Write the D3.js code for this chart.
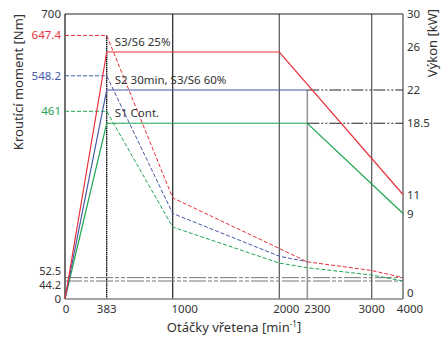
<!DOCTYPE html>
<html><head><meta charset="utf-8">
<script src="https://cdn.jsdelivr.net/npm/d3@7"></script>
<style>html,body{margin:0;padding:0;background:#fff;} svg{display:block;font-family:"Noto Sans",sans-serif;}</style>
</head><body>
<svg id="c" width="444" height="338"></svg>
<script>
// ---- data ----
const speedTicks = [0, 383, 1000, 2000, 2300, 3000, 4000];
const torqueTicks = [700, 647.4, 548.2, 461, 52.5, 44.2, 0];
const powerTicks = [30, 26, 22, 18.5, 11, 9, 0];

const torqueSpeeds = [0, 383, 1000, 2000, 2300, 3000, 4000];
const torqueS3_25 = [647.4, 647.4, 248.3, 124.2, 91.3, 70.0, 52.5];
const torqueS2_60 = [548.2, 548.2, 210.1, 105.1, 91.3];
const torqueS1 = [461, 461, 176.7, 88.3, 76.8, 58.9, 44.2];

const powerS3_25_speeds = [0, 383, 2000, 4000];
const powerS3_25 = [0, 26, 26, 11];
const powerS2_60_speeds = [0, 383, 2300];
const powerS2_60 = [0, 22, 22];
const powerS1_speeds = [0, 383, 2300, 4000];
const powerS1 = [0, 18.5, 18.5, 9];

const refTorque = [52.5, 44.2];
const refPower = [22, 18.5];
const seriesLabels = ["S3/S6 25%", "S2 30min, S3/S6 60%", "S1 Cont."];

// ---- layout ----
const svg = d3.select("#c");
const L = 65, R = 403, T = 14, B = 299;
const x = d3.scaleLinear().domain(speedTicks).range([65, 106.7, 172.7, 279.3, 307.3, 371.7, 403]);
const yT = d3.scaleLinear().domain([0, 700]).range([B, T]);
const yP = d3.scaleLinear().domain([0, 30]).range([B, T]);

const RED = "#e8303a", BLUE = "#4657a8", GREEN = "#1ea552";
const TXT = "#333";

// vertical grid lines
const g = svg.append("g");
g.append("line").attr("x1", x(383)).attr("x2", x(383)).attr("y1", yT(647.4)).attr("y2", B)
  .attr("stroke", "#000").attr("stroke-width", 1.3).attr("stroke-dasharray", "1.5,0.6");
g.append("line").attr("x1", x(1000)).attr("x2", x(1000)).attr("y1", T).attr("y2", B).attr("stroke", "#222").attr("stroke-width", 1.2);
g.append("line").attr("x1", x(2000)).attr("x2", x(2000)).attr("y1", T).attr("y2", B).attr("stroke", "#555").attr("stroke-width", 1.2);
g.append("line").attr("x1", x(2300)).attr("x2", x(2300)).attr("y1", yP(22)).attr("y2", B).attr("stroke", "#999").attr("stroke-width", 1.6);
g.append("line").attr("x1", x(3000)).attr("x2", x(3000)).attr("y1", T).attr("y2", B).attr("stroke", "#555").attr("stroke-width", 1.2);

// frame
g.append("line").attr("x1", L).attr("x2", R).attr("y1", T).attr("y2", T).attr("stroke", "#222").attr("stroke-width", 1.2);
g.append("line").attr("x1", L).attr("x2", L).attr("y1", T).attr("y2", B).attr("stroke", "#111").attr("stroke-width", 1.2);
g.append("line").attr("x1", R).attr("x2", R).attr("y1", T).attr("y2", B).attr("stroke", "#666").attr("stroke-width", 1.4);
g.append("line").attr("x1", L).attr("x2", R).attr("y1", B).attr("y2", B).attr("stroke", "#888").attr("stroke-width", 1.6);

// reference torque lines (double dash-dot-dot)
refTorque.forEach(v => {
  g.append("line").attr("x1", L).attr("x2", R).attr("y1", yT(v)).attr("y2", yT(v))
    .attr("stroke", "#777").attr("stroke-width", 1).attr("stroke-dasharray", "17,2,4,2,4,2");
});
// reference power lines (dash-dot-dot black)
refPower.forEach(v => {
  g.append("line").attr("x1", x(2300)).attr("x2", R).attr("y1", yP(v)).attr("y2", yP(v))
    .attr("stroke", "#222").attr("stroke-width", 1).attr("stroke-dasharray", "12,2,2,2,2,2");
});

// torque curves (dashed)
const lineT = d3.line().x(d => x(d[0])).y(d => yT(d[1]));
const lineP = d3.line().x(d => x(d[0])).y(d => yP(d[1]));
const tSeries = [[torqueS1, GREEN], [torqueS2_60, BLUE], [torqueS3_25, RED]];
tSeries.forEach(([vals, col]) => {
  svg.append("path").attr("d", lineT(vals.map((v, i) => [torqueSpeeds[i], v])))
    .attr("fill", "none").attr("stroke", col).attr("stroke-width", 1).attr("stroke-dasharray", "4,2");
});
// power curves (solid)
const pSeries = [[powerS1_speeds, powerS1, GREEN], [powerS2_60_speeds, powerS2_60, BLUE], [powerS3_25_speeds, powerS3_25, RED]];
pSeries.forEach(([sp, vals, col]) => {
  svg.append("path").attr("d", lineP(vals.map((v, i) => [sp[i], v])))
    .attr("fill", "none").attr("stroke", col).attr("stroke-width", 1.2);
});

// series labels
[[26, seriesLabels[0]], [22, seriesLabels[1]], [18.5, seriesLabels[2]]].forEach(([p, t]) => {
  svg.append("text").attr("x", x(383) + 8).attr("y", yP(p) - 6).attr("font-size", 11.5).attr("fill", TXT).text(t);
});

// left axis labels
const tCol = {647.4: RED, 548.2: BLUE, 461: GREEN};
const tDy = {52.5: -6, 44.2: 4.2, 700: 0, 0: 0};
torqueTicks.forEach(v => {
  svg.append("text").attr("x", 61).attr("y", yT(v) + (tDy[v] || 0)).attr("dy", "0.35em")
    .attr("text-anchor", "end").attr("font-size", (v === 52.5 || v === 44.2) ? 11 : 11.5)
    .attr("fill", tCol[v] || TXT).text(v);
});
// right axis labels
const pDy = {26: -5, 0: -6};
powerTicks.forEach(v => {
  svg.append("text").attr("x", 407).attr("y", yP(v) + (pDy[v] || 0)).attr("dy", "0.35em")
    .attr("font-size", 11.5).attr("fill", TXT).text(v);
});
// bottom axis labels
const sDx = {0: 1, 383: 0, 1000: 12, 2000: 7, 2300: 10, 3000: 0, 4000: 7};
speedTicks.forEach(v => {
  svg.append("text").attr("x", x(v) + sDx[v]).attr("y", 309).attr("dy", "0.35em")
    .attr("text-anchor", "middle").attr("font-size", 11.5).attr("fill", TXT).text(v);
});

// axis titles
svg.append("text").attr("transform", "translate(18,82) rotate(-90)").attr("text-anchor", "middle")
  .attr("dy", "0.35em").attr("font-size", 13).attr("fill", TXT).text("Kroutící moment [Nm]");
svg.append("text").attr("transform", "translate(432,43) rotate(-90)").attr("text-anchor", "middle")
  .attr("dy", "0.35em").attr("font-size", 13).attr("fill", TXT).text("Výkon [kW]");
const xt = svg.append("text").attr("x", 234).attr("y", 327).attr("dy", "0.35em").attr("text-anchor", "middle")
  .attr("font-size", 13).attr("fill", TXT);
xt.append("tspan").text("Otáčky vřetena [min");
xt.append("tspan").attr("font-size", 8).attr("dy", "-0.6em").text("-1");
xt.append("tspan").attr("dy", "0.35em").text("]");
</script>
</body></html>
